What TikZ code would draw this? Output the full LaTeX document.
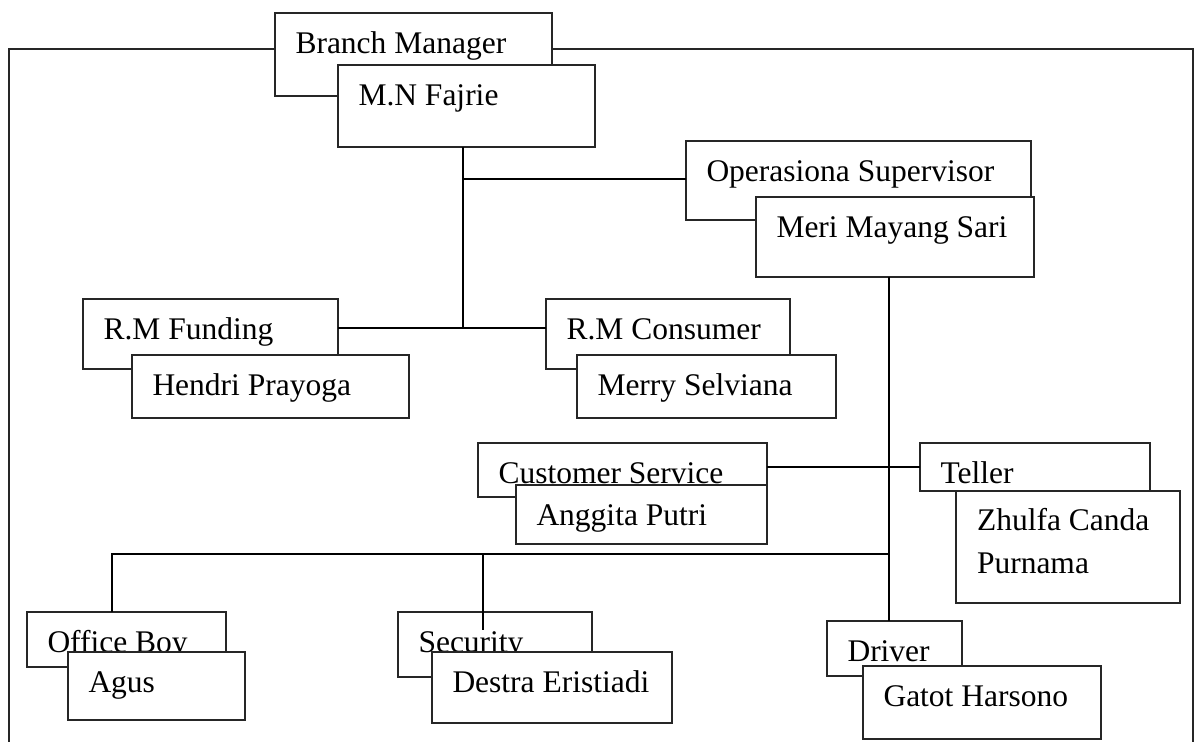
\documentclass[tikz,border=0pt]{standalone}
\usepackage{fontspec}
\setmainfont{Liberation Serif}
\newcommand\orgbox[6]{%
  \node[obox, minimum width={#4-#2}, minimum height={#5-#3}] (#1) at (#2,#3) {};
  \node[otext] (#1-t) at ([xshift=20.5pt,yshift=-40pt]#1.north west) {#6};
}
\begin{document}
\begin{tikzpicture}[x=1pt,y=-1pt,
  obox/.style={draw=black!85, line width=1.1pt, fill=white, inner sep=0pt, outer sep=0pt, anchor=north west},
  otext/.style={inner sep=0pt, outer sep=0pt, anchor=base west, font=\fontsize{31.5}{43}\selectfont},
  conn/.style={line width=1.8pt},
  thinconn/.style={line width=1.3pt},
  frameline/.style={line width=1.8pt, draw=black!85}]
\useasboundingbox (0,0) rectangle (1195,742);
\clip (0,0) rectangle (1195,742);
% outer frame
\coordinate (fr-bl) at (9,760);
\coordinate (fr-tl) at (9,49);
\coordinate (fr-tr) at (1193,49);
\coordinate (fr-br) at (1193,760);
\draw[frameline] (fr-bl) -- (fr-tl) -- (fr-tr) -- (fr-br);
% boxes
\orgbox{bm}{275}{13}{552}{96}{Branch Manager}
\orgbox{fj}{338}{65}{595}{147}{M.N Fajrie}
\orgbox{os}{686}{141}{1031}{220}{Operasiona Supervisor}
\orgbox{ms}{756}{197}{1034}{277}{Meri Mayang Sari}
\orgbox{rf}{83}{299}{338}{369}{R.M Funding}
\orgbox{hp}{132}{355}{409}{418}{Hendri Prayoga}
\orgbox{rc}{546}{299}{790}{369}{R.M Consumer}
\orgbox{mr}{577}{355}{836}{418}{Merry Selviana}
\orgbox{cs}{478}{443}{767}{497}{Customer Service}
\orgbox{ap}{516}{485}{767}{544}{Anggita Putri}
\orgbox{tl}{920}{443}{1150}{491}{Teller}
\node[obox, minimum width=224, minimum height=112] (zc) at (956,491) {};
\node[otext] (zc-t) at ([xshift=21pt,yshift=-39pt]zc.north west) {Zhulfa Canda};
\node[otext] (zc-t2) at ([xshift=21pt,yshift=-82pt]zc.north west) {Purnama};
\orgbox{ob}{27}{612}{226}{667}{Office Boy}
\orgbox{ag}{68}{652}{245}{720}{Agus}
\orgbox{sc}{398}{612}{592}{677}{Security}
\orgbox{de}{432}{652}{672}{723}{Destra Eristiadi}
\orgbox{dr}{827}{621}{962}{676}{Driver}
\orgbox{gh}{863}{666}{1101}{739}{Gatot Harsono}
% connectors
\coordinate (j1) at (463,328);
\coordinate (j2) at (889,554);
\coordinate (j3) at (112,554);
\coordinate (j4) at (483,554);
\coordinate (j5) at (464,179);
\coordinate (sc-in) at (483,630);
\draw[conn] (fj.south -| j1) -- (j1);
\draw[conn] (j5) -- (os.west |- j5);
\draw[conn] (rf.east |- j1) -- (rc.west |- j1);
\draw[thinconn] (ms.south -| j2) -- (dr.north -| j2);
\draw[conn] (cs.east |- tl.west) -- (tl.west);
\draw[conn] (j2) -- (j3) -- (ob.north -| j3);
\draw[conn] (j4) -- (sc-in);
\end{tikzpicture}
\end{document}
